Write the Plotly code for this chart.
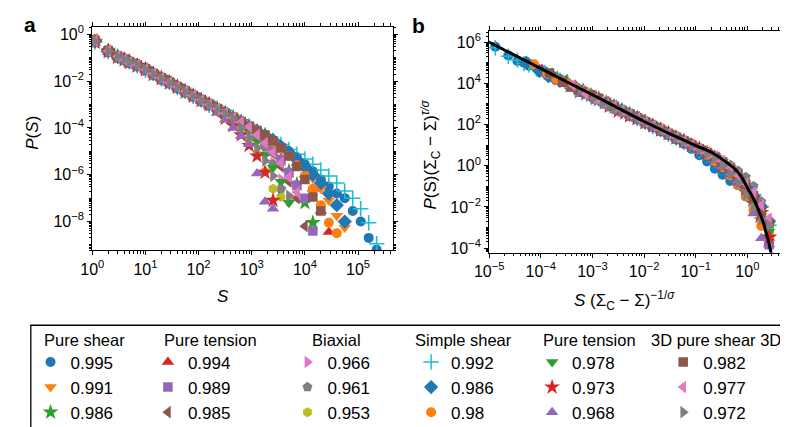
import plotly.graph_objects as go

# ---------------- data ----------------
# avalanche-size bins S (shared by all series)
S_bins = [1.12, 2, 3, 4, 5, 7, 10, 14.1, 20, 28.2, 39.8, 56.2, 79.4, 112, 158, 224,
          316, 447, 631, 891, 1259, 1778, 2512, 3548, 5012, 7079, 10000, 14125,
          19953, 28184, 39811, 56234, 79433, 112202, 158489, 223872]

# log10 P(S) for each series
logP_pure_shear_0995 = [-0.28, -0.70, -0.97, -1.06, -1.20, -1.31,
    -1.47, -1.71, -1.86, -2.09, -2.23, -2.46, -2.60, -2.84, -2.98, -3.22, -3.36, -3.60, -3.78, -3.98, -4.18, -4.38,
    -4.57, -4.78, -5.00, -5.25, -5.55, -5.85, -6.20, -6.50, -6.80, -7.00, -7.55, -8.00, -8.70, -9.20]
logP_pure_shear_0991 = [-0.26, -0.75, -0.96, -1.05, -1.21, -1.30,
    -1.52, -1.66, -1.89, -2.03, -2.27, -2.41, -2.66, -2.78, -3.02, -3.16, -3.41, -3.53, -3.78, -3.91, -4.16, -4.34,
    -4.60, -4.85, -5.12, -5.40, -5.75, -6.15, -6.60, -7.10, -7.75, -8.25]
logP_pure_shear_0986 = [-0.31, -0.69, -0.98, -1.09, -1.15, -1.36,
    -1.48, -1.72, -1.85, -2.08, -2.22, -2.47, -2.61, -2.83, -2.97, -3.21, -3.35, -3.58, -3.73, -3.97,
    -4.30, -4.60, -4.95, -5.35, -5.85, -6.40, -7.20, -8.05]
logP_pure_tension_0994 = [-0.24, -0.73, -0.94, -1.07, -1.19, -1.32,
    -1.49, -1.70, -1.87, -2.07, -2.26, -2.43, -2.62, -2.82, -3.01, -3.18, -3.37, -3.57, -3.76, -3.93, -4.14, -4.35,
    -4.62, -4.88, -5.15, -5.50, -6.00, -6.60, -7.55, -8.45]
logP_pure_tension_0989 = [-0.35, -0.71, -0.99, -1.08, -1.16, -1.34,
    -1.51, -1.68, -1.89, -2.05, -2.28, -2.42, -2.64, -2.80, -3.02, -3.19, -3.39, -3.55, -3.77, -3.95, -4.17,
    -4.55, -4.95, -5.35, -5.90, -6.45, -7.00, -8.40]
logP_pure_tension_0985 = [-0.22, -0.70, -0.96, -1.10, -1.22, -1.29,
    -1.46, -1.72, -1.90, -2.02, -2.27, -2.45, -2.61, -2.85, -2.99, -3.23, -3.35, -3.60, -3.74, -3.98,
    -4.40, -4.70, -5.10, -5.65, -6.30, -7.00, -8.20]
logP_biaxial_0966 = [-0.29, -0.74, -0.95, -1.05, -1.19, -1.33,
    -1.53, -1.68, -1.91, -2.04, -2.24, -2.47, -2.62, -2.82, -3.02, -3.17, -3.39, -3.58,
    -3.85, -4.12, -4.50, -4.95, -5.50, -6.20, -7.10]
logP_biaxial_0961 = [-0.32, -0.72, -0.97, -1.07, -1.17, -1.31,
    -1.50, -1.70, -1.87, -2.08, -2.25, -2.43, -2.64, -2.80, -3.01, -3.20, -3.37, -3.57, -3.77,
    -4.05, -4.35, -4.80, -5.55, -6.60]
logP_biaxial_0953 = [-0.27, -0.73, -0.94, -1.09, -1.20, -1.35,
    -1.52, -1.71, -1.86, -2.06, -2.27, -2.42, -2.65, -2.79, -3.03, -3.21, -3.40,
    -3.70, -4.05, -4.50, -5.10, -5.85, -6.60, -6.95]
logP_simple_shear_0992 = [-0.33, -0.74, -0.93, -1.10, -1.17, -1.35,
    -1.53, -1.67, -1.90, -2.04, -2.27, -2.42, -2.65, -2.79, -3.03, -3.17, -3.40, -3.54, -3.77, -3.92, -4.15, -4.30, -4.53, -4.71,
    -4.92, -5.12, -5.33, -5.55, -5.80, -6.05, -6.35, -6.70, -7.00, -7.45, -8.05, -8.95]
logP_simple_shear_0986 = [-0.30, -0.71, -0.96, -1.06, -1.18, -1.32,
    -1.49, -1.69, -1.89, -2.05, -2.26, -2.44, -2.62, -2.82, -2.99, -3.20, -3.37, -3.57, -3.74, -3.95, -4.12, -4.32, -4.52,
    -4.80, -5.05, -5.35, -5.65, -6.00, -6.35, -6.80, -7.30, -8.00]
logP_simple_shear_0980 = [-0.20, -0.66, -0.92, -1.04, -1.14, -1.30,
    -1.46, -1.66, -1.85, -2.04, -2.22, -2.43, -2.60, -2.80, -2.98, -3.18, -3.36, -3.55, -3.73, -3.93, -4.11, -4.32,
    -4.60, -4.90, -5.20, -5.60, -6.05, -6.60, -7.30, -8.05, -8.50]
logP_pure_tension_0978 = [-0.31, -0.70, -0.95, -1.08, -1.16, -1.32,
    -1.45, -1.64, -1.83, -2.01, -2.20, -2.39, -2.58, -2.76, -2.95, -3.14, -3.33, -3.52,
    -3.80, -4.10, -4.55, -5.15, -5.70, -6.30, -7.20]
logP_pure_tension_0973 = [-0.34, -0.74, -0.98, -1.07, -1.21, -1.34,
    -1.51, -1.70, -1.89, -2.07, -2.26, -2.45, -2.64, -2.82, -3.01, -3.22,
    -3.60, -3.90, -4.30, -4.75, -5.20, -5.90, -7.10]
logP_pure_tension_0968 = [-0.36, -0.75, -0.99, -1.11, -1.21, -1.37,
    -1.54, -1.73, -1.92, -2.10, -2.29, -2.48, -2.67, -2.86, -3.06,
    -3.35, -3.65, -4.00, -4.35, -4.70, -5.95, -7.15, -7.45]
logP_3d_pure_shear_0982 = [-0.25, -0.69, -0.93, -1.06, -1.17, -1.30,
    -1.47, -1.67, -1.86, -2.05, -2.23, -2.42, -2.61, -2.79, -2.98, -3.17, -3.36, -3.54, -3.73, -3.92, -4.11, -4.30,
    -4.55, -4.85, -5.20, -5.65, -6.20, -6.95, -7.55]
logP_3d_pure_shear_0977 = [-0.28, -0.71, -0.94, -1.08, -1.19, -1.31,
    -1.50, -1.68, -1.87, -2.06, -2.24, -2.43, -2.62, -2.81, -3.00, -3.18, -3.37, -3.56, -3.75, -3.95,
    -4.30, -4.65, -5.05, -5.50, -6.10, -6.75]
logP_3d_pure_shear_0972 = [-0.30, -0.72, -0.96, -1.07, -1.18, -1.32,
    -1.51, -1.70, -1.89, -2.07, -2.26, -2.45, -2.64, -2.83, -3.02, -3.21, -3.40, -3.60,
    -4.00, -4.40, -4.85, -5.40, -6.05, -6.60, -6.90]

# legend groups / labels
group_titles = ["Pure shear", "Pure tension", "Biaxial", "Simple shear", "Pure tension", "3D pure shear 3D"]
series_labels = ["0.995", "0.991", "0.986", "0.994", "0.989", "0.985", "0.966", "0.961", "0.953",
                 "0.992", "0.986", "0.98", "0.978", "0.973", "0.968", "0.982", "0.977", "0.972"]

# collapse shifts for panel b (decades in x and in y, per series)
b_log_x_shift = [-4.93, -4.33, -3.73, -4.03, -3.73, -3.58, -3.28, -3.13, -3.13,
                 -4.93, -4.33, -4.18, -3.28, -2.98, -2.98, -3.88, -3.43, -3.28]
b_log_y_shift = [6.06, 5.31, 4.56, 4.94, 4.56, 4.38, 4.00, 3.81, 3.81,
                 6.06, 5.31, 5.13, 4.00, 3.63, 3.63, 4.75, 4.19, 4.00]

# fitted scaling function (panel b black curve), log10 x and log10 y
fit_log_x = [-5.05, -4.5, -4.0, -3.5, -3.0, -2.5, -2.0, -1.5, -1.0, -0.67, -0.45, -0.23, -0.1,
             0.02, 0.12, 0.21, 0.30, 0.37, 0.42, 0.47, 0.50]
fit_log_y = [6.06, 5.36, 4.72, 4.08, 3.45, 2.80, 2.15, 1.55, 0.98, 0.62, 0.25, -0.18, -0.60,
             -1.15, -1.60, -2.11, -2.70, -3.30, -3.80, -4.35, -4.70]

series_logP = [logP_pure_shear_0995, logP_pure_shear_0991, logP_pure_shear_0986,
               logP_pure_tension_0994, logP_pure_tension_0989, logP_pure_tension_0985,
               logP_biaxial_0966, logP_biaxial_0961, logP_biaxial_0953,
               logP_simple_shear_0992, logP_simple_shear_0986, logP_simple_shear_0980,
               logP_pure_tension_0978, logP_pure_tension_0973, logP_pure_tension_0968,
               logP_3d_pure_shear_0982, logP_3d_pure_shear_0977, logP_3d_pure_shear_0972]

# ---------------- styles ----------------
C_BLUE, C_ORANGE, C_GREEN, C_RED, C_PURPLE = "#1f77b4", "#ff7f0e", "#2ca02c", "#d62728", "#9467bd"
C_BROWN, C_PINK, C_GRAY, C_OLIVE, C_CYAN = "#8c564b", "#e377c2", "#7f7f7f", "#bcbd22", "#17becf"
styles = [
    (C_BLUE, "circle", 10), (C_ORANGE, "triangle-down", 11), (C_GREEN, "star", 12),
    (C_RED, "triangle-up", 11), (C_PURPLE, "square", 9.5), (C_BROWN, "triangle-left", 11),
    (C_PINK, "triangle-right", 11), (C_GRAY, "pentagon", 10.5), (C_OLIVE, "hexagon", 10),
    (C_CYAN, "cross-thin", 11), (C_BLUE, "diamond", 11), (C_ORANGE, "circle", 10),
    (C_GREEN, "triangle-down", 11), (C_RED, "star", 12), (C_PURPLE, "triangle-up", 11),
    (C_BROWN, "square", 9.5), (C_PINK, "triangle-left", 11), (C_GRAY, "triangle-right", 11),
]
FONT = "Liberation Sans, Arial, Helvetica, sans-serif"
W, H = 788, 427

fig = go.Figure()
legend_ids = ["legend", "legend2", "legend3", "legend4", "legend5", "legend6"]

for i, logP in enumerate(series_logP):
    color, sym, size = styles[i]
    n = len(logP)
    xs = S_bins[:n]
    ys = [10 ** v for v in logP]
    mk = dict(symbol=sym, size=size, color=color)
    if sym == "cross-thin":
        mk["line"] = dict(color=color, width=1.5)
    fig.add_trace(go.Scatter(x=xs, y=ys, mode="markers", marker=mk, name=series_labels[i],
                             legend=legend_ids[i // 3], xaxis="x", yaxis="y", showlegend=True))
    xb = [s * 10 ** b_log_x_shift[i] for s in xs]
    yb = [p * 10 ** b_log_y_shift[i] for p in ys]
    fig.add_trace(go.Scatter(x=xb, y=yb, mode="markers", marker=mk, name=series_labels[i],
                             xaxis="x2", yaxis="y2", showlegend=False))

fig.add_trace(go.Scatter(x=[10 ** v for v in fit_log_x], y=[10 ** v for v in fit_log_y],
                         mode="lines", line=dict(color="black", width=3, shape="spline", smoothing=0.6),
                         xaxis="x2", yaxis="y2", showlegend=False))


def sup_label(e):
    s = str(e).replace("-", "\u2212")
    return f"10<sup>{s}</sup>"


def minor_vals(lo, hi, odd_decades=False):
    out = []
    for d in range(lo, hi + 1):
        if odd_decades and d % 2 != 0:
            out.append(10.0 ** d)
        for m in range(2, 10):
            out.append(m * 10.0 ** d)
    return out


def axis_common():
    return dict(type="log", showline=True, linecolor="black", linewidth=1.2, mirror="allticks",
                ticks="outside", ticklen=4, tickwidth=1, tickcolor="black", showgrid=False,
                zeroline=False, tickfont=dict(family=FONT, size=16, color="black"))


def minor_axis(vals):
    return dict(tickmode="array", tickvals=vals, ticks="outside", ticklen=2.5,
                tickwidth=0.8, tickcolor="black", showgrid=False)


ax_a_x = axis_common()
ax_a_x.update(domain=[71 / W, 379 / W], range=[0, 5.655], anchor="y",
              tickmode="array", tickvals=[10 ** e for e in range(0, 6)],
              ticktext=[sup_label(e) for e in range(0, 6)],
              minor=minor_axis(minor_vals(0, 5)))
ax_a_y = axis_common()
ax_a_y.update(domain=[1 - 243.3 / H, 1 - 16 / H], range=[-9.23, 0.324], anchor="x",
              tickmode="array", tickvals=[10 ** e for e in range(-8, 1, 2)],
              ticktext=[sup_label(e) for e in range(-8, 1, 2)],
              minor=minor_axis(minor_vals(-10, 0, odd_decades=True)))
ax_b_x = axis_common()
ax_b_x.update(domain=[477.7 / W, 786.7 / W], range=[-5.0, 0.84], anchor="y2",
              tickmode="array", tickvals=[10 ** e for e in range(-5, 1)],
              ticktext=[sup_label(e) for e in range(-5, 1)],
              minor=minor_axis(minor_vals(-5, 0)))
ax_b_y = axis_common()
ax_b_y.update(domain=[1 - 245.7 / H, 1 - 20 / H], range=[-4.22, 6.56], anchor="x2",
              tickmode="array", tickvals=[10 ** e for e in range(-4, 7, 2)],
              ticktext=[sup_label(e) for e in range(-4, 7, 2)],
              minor=minor_axis(minor_vals(-5, 6, odd_decades=True)))

legend_text_start = [47.7, 168, 311, 437.7, 561.7, 696]
legends = {}
for j, lid in enumerate(legend_ids):
    legends[lid] = dict(x=(legend_text_start[j] - 40) / W, y=1 - 339 / H, xanchor="left", yanchor="top",
                        bgcolor="rgba(0,0,0,0)", borderwidth=0, tracegroupgap=0,
                        font=dict(family=FONT, size=17, color="black"))

header_x = [63.5, 192.5, 321, 451.5, 581, 710]
annotations = []
for j, t in enumerate(group_titles):
    annotations.append(dict(text=t, x=header_x[j] / W, y=1 - 334 / H, xref="paper", yref="paper",
                            xanchor="center", yanchor="middle", showarrow=False,
                            font=dict(family=FONT, size=16.5, color="black")))

annotations += [
    dict(text="<b>a</b>", x=7 / W, y=1 - 14 / H, xref="paper", yref="paper", showarrow=False,
         xanchor="center", yanchor="middle", font=dict(family=FONT, size=21, color="black")),
    dict(text="<b>b</b>", x=405 / W, y=1 - 15 / H, xref="paper", yref="paper", showarrow=False,
         xanchor="center", yanchor="middle", font=dict(family=FONT, size=21, color="black")),
    dict(text="<i>S</i>", x=205 / W, y=1 - 290 / H, xref="paper", yref="paper", showarrow=False,
         xanchor="center", yanchor="middle", font=dict(family=FONT, size=17, color="black")),
    dict(text="<i>P</i>(<i>S</i>)", x=10 / W, y=1 - 124 / H, xref="paper", yref="paper", showarrow=False,
         textangle=-90, xanchor="center", yanchor="middle", font=dict(family=FONT, size=17, color="black")),
    dict(text="<i>P</i>(S)(Σ<sub>C</sub> − Σ)<sup><i>τ/σ</i></sup>", x=418 / W, y=1 - 146 / H,
         xref="paper", yref="paper", showarrow=False, textangle=-90, xanchor="center", yanchor="middle",
         font=dict(family=FONT, size=17, color="black")),
    dict(text="<i>S</i> (Σ<sub>C</sub> − Σ)<sup>−1/<i>σ</i></sup>", x=616 / W, y=1 - 294 / H,
         xref="paper", yref="paper", showarrow=False, xanchor="center", yanchor="middle",
         font=dict(family=FONT, size=17, color="black")),
]

fig.update_layout(
    width=W, height=H, margin=dict(l=0, r=0, t=0, b=0),
    paper_bgcolor="white", plot_bgcolor="white",
    font=dict(family=FONT, size=16, color="black"),
    xaxis=ax_a_x, yaxis=ax_a_y, xaxis2=ax_b_x, yaxis2=ax_b_y,
    annotations=annotations,
    shapes=[dict(type="rect", xref="paper", yref="paper", x0=8 / W, x1=786.5 / W,
                 y0=1 - 425.5 / H, y1=1 - 319.5 / H, line=dict(color="black", width=1.3))],
    **legends,
)

fig.write_html("out.html")
